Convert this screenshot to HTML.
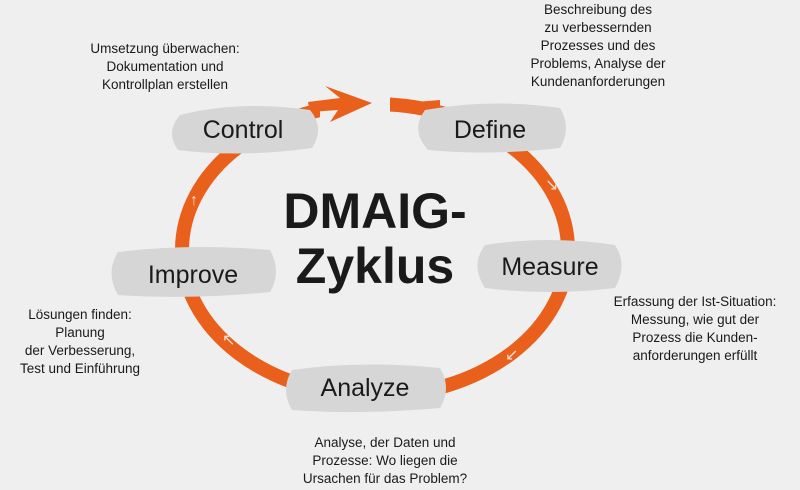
<!DOCTYPE html>
<html><head><meta charset="utf-8"><style>
html,body{margin:0;padding:0;background:#efefef;}
svg{display:block}
text{font-family:"Liberation Sans","DejaVu Sans",sans-serif;fill:#1a1a1a}
.s{font-size:13.5px;text-anchor:middle}
.l{font-size:25px;text-anchor:middle}
.t{font-size:50px;text-anchor:middle;font-weight:bold}
</style></head><body>
<svg width="800" height="490" viewBox="0 0 800 490">
<rect width="800" height="490" fill="#efefef"/>
<ellipse cx="375" cy="250" rx="193" ry="146" fill="none" stroke="#e8601c" stroke-width="14"/>
<rect x="320" y="80" width="70" height="40" fill="#efefef"/>
<path d="M308 102 L340 98 L325 86 L372 103 L330 122 L338 110 L310 112 Z" fill="#e8601c"/>
<path d="M392 104 L440 100 L440 110 L392 110 Z" fill="#e8601c"/>
<g fill="#d6d6d6">
<path d="M180 115 Q240 100 310 110 Q325 128 312 148 Q240 158 178 150 Q165 132 180 115Z"/>
<path d="M425 110 Q490 98 560 108 Q572 128 560 148 Q490 156 428 150 Q410 130 425 110Z"/>
<path d="M485 245 Q550 235 615 245 Q628 265 615 288 Q550 296 485 288 Q470 265 485 245Z"/>
<path d="M118 252 Q190 243 270 250 Q282 272 270 292 Q190 300 118 295 Q105 273 118 252Z"/>
<path d="M292 370 Q360 360 440 368 Q452 388 440 408 Q360 415 292 410 Q280 390 292 370Z"/>
</g>
<text class="l" x="243" y="138">Control</text>
<text class="l" x="490" y="138">Define</text>
<text class="l" x="550" y="275">Measure</text>
<text class="l" x="193" y="283">Improve</text>
<text class="l" x="365" y="396">Analyze</text>
<text class="t" x="375" y="228">DMAIG-</text>
<text class="t" x="375" y="283">Zyklus</text>
<g fill="#f3d7c8">
<text x="190" y="205" style="font-size:16px;fill:#f5e0d5">↑</text>
<text x="545" y="190" style="font-size:16px;fill:#f5e0d5">↘</text>
<text x="505" y="360" style="font-size:16px;fill:#f5e0d5">↙</text>
<text x="222" y="345" style="font-size:16px;fill:#f5e0d5">↖</text>
</g>
<text class="s" x="165" y="53">Umsetzung überwachen:</text>
<text class="s" x="165" y="71">Dokumentation und</text>
<text class="s" x="165" y="89">Kontrollplan erstellen</text>
<text class="s" x="598" y="14">Beschreibung des</text>
<text class="s" x="598" y="32">zu verbessernden</text>
<text class="s" x="598" y="50">Prozesses und des</text>
<text class="s" x="598" y="68">Problems, Analyse der</text>
<text class="s" x="598" y="86">Kundenanforderungen</text>
<text class="s" x="695" y="306">Erfassung der Ist-Situation:</text>
<text class="s" x="695" y="324">Messung, wie gut der</text>
<text class="s" x="695" y="342">Prozess die Kunden-</text>
<text class="s" x="695" y="360">anforderungen erfüllt</text>
<text class="s" x="80" y="319">Lösungen finden:</text>
<text class="s" x="80" y="337">Planung</text>
<text class="s" x="80" y="355">der Verbesserung,</text>
<text class="s" x="80" y="373">Test und Einführung</text>
<text class="s" x="385" y="447">Analyse, der Daten und</text>
<text class="s" x="385" y="465">Prozesse: Wo liegen die</text>
<text class="s" x="385" y="483">Ursachen für das Problem?</text>
</svg>
</body></html>
